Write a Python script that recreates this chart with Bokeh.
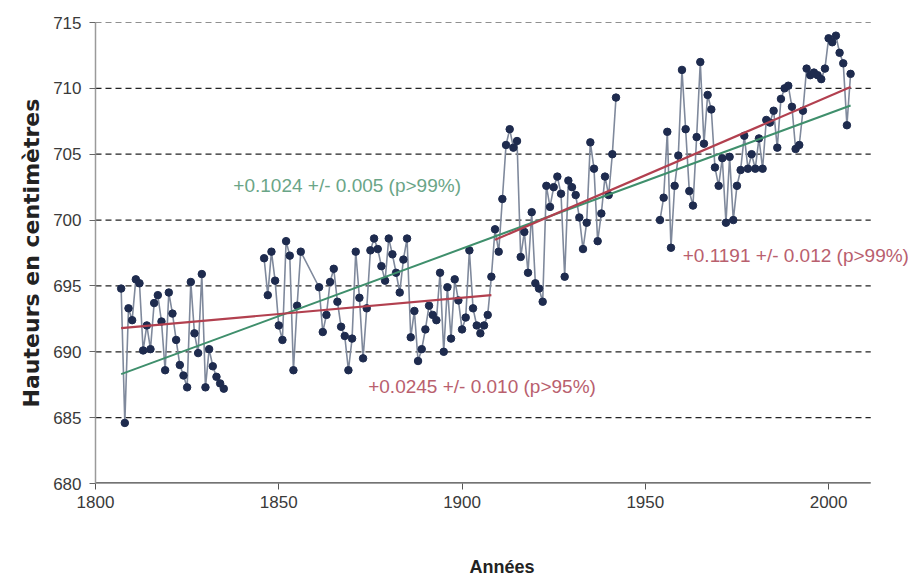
from bokeh.plotting import figure
from bokeh.models import FixedTicker, Label, Range1d
from bokeh.embed import file_html
from bokeh.resources import INLINE

# ---- data (annual mean water levels, cm) ----
years_a = [1807, 1808, 1809, 1810, 1811, 1812, 1813, 1814, 1815, 1816, 1817, 1818,
           1819, 1820, 1821, 1822, 1823, 1824, 1825, 1826, 1827, 1828, 1829, 1830,
           1831, 1832, 1833, 1834, 1835]
level_a = [694.8, 684.6, 693.3, 692.4, 695.5, 695.2, 690.1, 692.0, 690.2, 693.7, 694.3, 692.3,
           688.6, 694.5, 692.9, 690.9, 689.0, 688.2, 687.3, 695.3, 691.4, 689.9, 695.9, 687.3,
           690.2, 688.9, 688.1, 687.6, 687.2]

years_b = [1846, 1847, 1848, 1849, 1850, 1851, 1852, 1853, 1854, 1855, 1856,
           1861, 1862, 1863, 1864, 1865, 1866, 1867, 1868, 1869, 1870, 1871, 1872,
           1873, 1874, 1875, 1876, 1877, 1878, 1879, 1880, 1881, 1882, 1883, 1884,
           1885, 1886, 1887, 1888, 1889, 1890, 1891, 1892, 1893, 1894, 1895, 1896,
           1897, 1898, 1899, 1900, 1901, 1902, 1903, 1904, 1905, 1906, 1907, 1908,
           1909, 1910, 1911, 1912, 1913, 1914, 1915, 1916, 1917, 1918, 1919, 1920,
           1921, 1922, 1923, 1924, 1925, 1926, 1927, 1928, 1929, 1930, 1931, 1932,
           1933, 1934, 1935, 1936, 1937, 1938, 1939, 1940, 1941, 1942, 1943]
level_b = [697.1, 694.3, 697.6, 695.4, 692.0, 690.9, 698.4, 697.3, 688.6, 693.5, 697.6,
           694.9, 691.5, 692.8, 695.3, 696.3, 693.8, 691.9, 691.2, 688.6, 691.0, 697.6,
           694.1, 689.5, 693.3, 697.7, 698.6, 697.8, 696.5, 695.4, 698.6, 697.4, 696.0, 694.5,
           697.0, 698.6, 691.1, 693.1, 689.3, 690.2, 691.7, 693.5, 692.8, 692.4, 696.0, 690.0,
           694.9, 691.0, 695.5, 693.9, 691.7, 692.6, 697.7, 693.3, 692.0, 691.4, 692.0, 692.8,
           695.7, 699.3, 697.6, 701.6, 705.7, 706.9, 705.5, 706.0, 697.2, 699.1, 696.0, 700.6,
           695.2, 694.8, 693.8, 702.6, 701.0, 702.5, 703.3, 702.0, 695.7, 703.0, 702.5, 701.9,
           700.2, 697.8, 699.8, 705.9, 703.9, 698.4, 700.5, 703.3, 701.9, 705.0, 709.3]

years_c = [1954, 1955, 1956, 1957, 1958, 1959, 1960, 1961, 1962, 1963, 1964, 1965,
           1966, 1967, 1968, 1969, 1970, 1971, 1972, 1973, 1974, 1975, 1976, 1977,
           1978, 1979, 1980, 1981, 1982, 1983, 1984, 1985, 1986, 1987, 1988, 1989,
           1990, 1991, 1992, 1993, 1994, 1995, 1996, 1997, 1998, 1999, 2000, 2001,
           2002, 2003, 2004, 2005, 2006]
level_c = [700.0, 701.7, 706.7, 697.9, 702.6, 704.9, 711.4, 706.9, 702.2, 701.1, 706.3, 712.0,
           705.8, 709.5, 708.4, 704.0, 702.6, 704.7, 699.8, 704.8, 700.0, 702.6, 703.8, 706.4,
           703.9, 705.0, 703.9, 706.2, 703.9, 707.6, 707.4, 708.3, 705.5, 709.2, 710.0, 710.2,
           708.6, 705.4, 705.7, 708.3, 711.5, 711.0, 711.2, 711.0, 710.7, 711.5, 713.8, 713.5,
           714.0, 712.7, 711.9, 707.2, 711.1]

# linear trends (end points)
trend_all_years = [1807, 2006]
trend_all_level = [688.3, 708.7]
trend_early_years = [1807, 1908]
trend_early_level = [691.8, 694.3]
trend_late_years = [1909, 2006]
trend_late_level = [698.5, 710.1]

x_ticks = [1800, 1850, 1900, 1950, 2000]
y_ticks = [680, 685, 690, 695, 700, 705, 710, 715]
x_axis_end = 2011.5          # where the drawn x axis / grid lines stop

label_all = "+0.1024 +/- 0.005 (p>99%)"
label_late = "+0.1191 +/- 0.012 (p>99%)"
label_early = "+0.0245 +/- 0.010 (p>95%)"

# ---- figure ----
FONT = "Liberation Sans"
p = figure(width=910, height=583, x_range=Range1d(1800, 2021.8), y_range=Range1d(680, 715),
           output_backend="svg", toolbar_location=None,
           min_border_left=95, min_border_right=2, min_border_top=22, min_border_bottom=100)
p.outline_line_color = None
p.background_fill_color = "white"
p.border_fill_color = "white"

p.xgrid.visible = False
p.ygrid.visible = False

p.xaxis.ticker = FixedTicker(ticks=x_ticks)
p.yaxis.ticker = FixedTicker(ticks=y_ticks)
p.xaxis.minor_tick_line_color = None
p.yaxis.minor_tick_line_color = None
for ax in (p.xaxis, p.yaxis):
    ax.major_label_text_font = FONT
    ax.major_label_text_font_size = "17px"
    ax.major_label_text_color = "#3a3a3a"
    ax.axis_label_text_font = FONT
    ax.axis_label_text_font_style = "bold"
    ax.axis_label_text_color = "#222222"
    ax.major_tick_in = 0
    ax.major_tick_out = 6
p.xaxis.axis_line_color = None
p.xaxis.major_tick_line_color = "#555555"
p.yaxis.axis_line_color = "#9a9a9a"
p.yaxis.axis_line_width = 1.5
p.yaxis.major_tick_line_color = "#666666"
p.xaxis.major_label_standoff = 6
p.yaxis.major_label_standoff = 8

p.xaxis.axis_label = "Années"
p.xaxis.axis_label_text_font_size = "18px"
p.xaxis.axis_label_standoff = 46
p.yaxis.axis_label = "Hauteurs en centimètres"
p.yaxis.axis_label_text_font = "DejaVu Sans"
p.yaxis.axis_label_text_font_size = "22px"
p.yaxis.axis_label_standoff = 6

# dashed horizontal grid lines and the x axis line, stopping at the chart's right edge
grid_levels = y_ticks[1:]
p.segment(x0=[x_ticks[0]] * len(grid_levels), y0=grid_levels,
          x1=[x_axis_end] * len(grid_levels), y1=grid_levels,
          line_color="#222222", line_dash="6 4", line_width=1.2)
p.segment(x0=[x_ticks[0]], y0=[y_ticks[0]], x1=[x_axis_end], y1=[y_ticks[0]],
          line_color="#444444", line_width=2.5)

LINE_C = "#7f899c"
MARK_C = "#1e2b4e"
for xs, ys in ((years_a, level_a), (years_b, level_b), (years_c, level_c)):
    p.line(xs, ys, line_color=LINE_C, line_width=1.6)
    p.scatter(xs, ys, size=7.5, fill_color=MARK_C, line_color=MARK_C)

GREEN = "#3f8f6c"
RED = "#b2404f"
p.line(trend_all_years, trend_all_level, line_color=GREEN, line_width=2)
p.line(trend_early_years, trend_early_level, line_color=RED, line_width=2.2)
p.line(trend_late_years, trend_late_level, line_color=RED, line_width=2.2)

p.add_layout(Label(x=1837.6, y=702.6, text=label_all, text_font=FONT, text_font_size="19px",
                   text_color="#6aa587", text_baseline="middle", text_align="left"))
p.add_layout(Label(x=1960.2, y=697.3, text=label_late, text_font=FONT, text_font_size="19px",
                   text_color="#b9606e", text_baseline="middle", text_align="left"))
p.add_layout(Label(x=1874.4, y=687.4, text=label_early, text_font=FONT, text_font_size="19px",
                   text_color="#b9606e", text_baseline="middle", text_align="left"))

open("out.html", "w").write(file_html(p, INLINE))
